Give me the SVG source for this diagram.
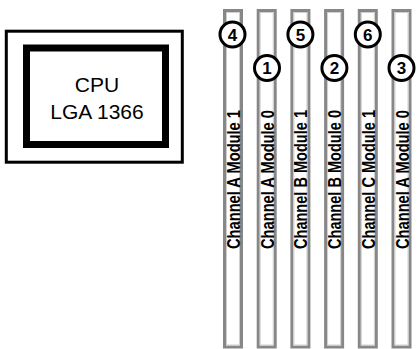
<svg xmlns="http://www.w3.org/2000/svg" width="417" height="349" viewBox="0 0 417 349">
<style>
.slot{fill:#fff;stroke:#878787;stroke-width:3}
.slotin{fill:none;stroke:#cfcfcf;stroke-width:1}
.lbl{font-family:"Liberation Sans",Arial,sans-serif;font-weight:bold;font-size:17.5px;fill:#000}
.num{fill:#fff;stroke:#000;stroke-width:3}
.numt{font-family:"Liberation Sans",Arial,sans-serif;font-weight:bold;font-size:17px;fill:#000;text-anchor:middle}
.cpu{font-family:"Liberation Sans",Arial,sans-serif;font-size:21px;fill:#000;text-anchor:middle}
</style>
<rect width="417" height="349" fill="#fff"/>
<g id="cpu">
<rect x="6.3" y="31.2" width="176" height="131" fill="none" stroke="#000" stroke-width="3"/>
<rect x="26.5" y="48" width="139" height="96.5" fill="none" stroke="#000" stroke-width="7"/>
<text class="cpu" x="97" y="92">CPU</text>
<text class="cpu" x="97" y="118.5">LGA 1366</text>
</g>
<g id="slot-4">
<rect class="slot" x="224.5" y="10.5" width="17" height="336.5"/>
<rect class="slotin" x="226.5" y="12.5" width="13" height="332.5"/>
<text class="lbl" transform="translate(240,249) rotate(-90)" textLength="139" lengthAdjust="spacingAndGlyphs">Channel A Module 1</text>
<circle class="num" cx="232.5" cy="34.5" r="12.5"/>
<text class="numt" x="232.5" y="40.5">4</text>
</g>
<g id="slot-1">
<rect class="slot" x="258.2" y="10.5" width="17" height="336.5"/>
<rect class="slotin" x="260.2" y="12.5" width="13" height="332.5"/>
<text class="lbl" transform="translate(273.7,249) rotate(-90)" textLength="139" lengthAdjust="spacingAndGlyphs">Channel A Module 0</text>
<circle class="num" cx="267" cy="68" r="12.5"/>
<text class="numt" x="267" y="74">1</text>
</g>
<g id="slot-5">
<rect class="slot" x="291.9" y="10.5" width="17" height="336.5"/>
<rect class="slotin" x="293.9" y="12.5" width="13" height="332.5"/>
<text class="lbl" transform="translate(307.4,249) rotate(-90)" textLength="139" lengthAdjust="spacingAndGlyphs">Channel B Module 1</text>
<circle class="num" cx="300.4" cy="34.5" r="12.5"/>
<text class="numt" x="300.4" y="40.5">5</text>
</g>
<g id="slot-2">
<rect class="slot" x="325.6" y="10.5" width="17" height="336.5"/>
<rect class="slotin" x="327.6" y="12.5" width="13" height="332.5"/>
<text class="lbl" transform="translate(341.1,249) rotate(-90)" textLength="139" lengthAdjust="spacingAndGlyphs">Channel B Module 0</text>
<circle class="num" cx="334.4" cy="68" r="12.5"/>
<text class="numt" x="334.4" y="74">2</text>
</g>
<g id="slot-6">
<rect class="slot" x="359.3" y="10.5" width="17" height="336.5"/>
<rect class="slotin" x="361.3" y="12.5" width="13" height="332.5"/>
<text class="lbl" transform="translate(374.8,249) rotate(-90)" textLength="139" lengthAdjust="spacingAndGlyphs">Channel C Module 1</text>
<circle class="num" cx="367.8" cy="34.5" r="12.5"/>
<text class="numt" x="367.8" y="40.5">6</text>
</g>
<g id="slot-3">
<rect class="slot" x="393" y="10.5" width="17" height="336.5"/>
<rect class="slotin" x="395" y="12.5" width="13" height="332.5"/>
<text class="lbl" transform="translate(408.5,249) rotate(-90)" textLength="139" lengthAdjust="spacingAndGlyphs">Channel A Module 0</text>
<circle class="num" cx="401.5" cy="68" r="12.5"/>
<text class="numt" x="401.5" y="74">3</text>
</g>
<g id="connectors"></g>
</svg>
